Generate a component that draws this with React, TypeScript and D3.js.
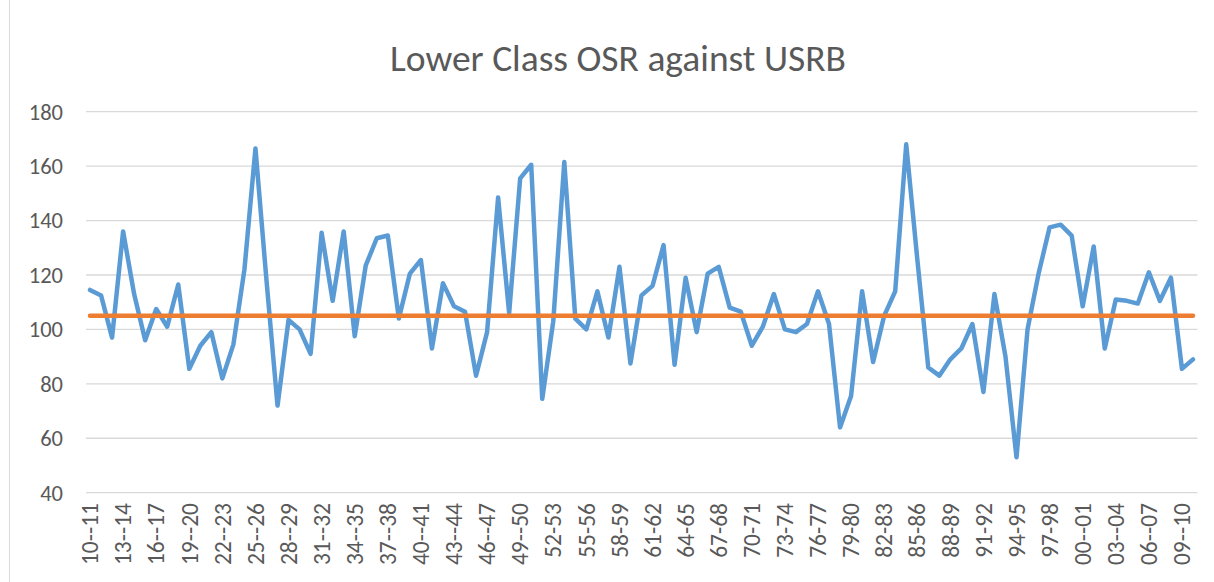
import React from "react";
import * as d3 from "d3";

const categories: string[] = [
  "10--11","11--12","12--13","13--14","14--15","15--16","16--17","17--18","18--19","19--20",
  "20--21","21--22","22--23","23--24","24--25","25--26","26--27","27--28","28--29","29--30",
  "30--31","31--32","32--33","33--34","34--35","35--36","36--37","37--38","38--39","39--40",
  "40--41","41--42","42--43","43--44","44--45","45--46","46--47","47--48","48--49","49--50",
  "50-51","51-52","52-53","53-54","54-55","55-56","56-57","57-58","58-59","59-60",
  "60-61","61-62","62-63","63-64","64-65","65-66","66-67","67-68","68-69","69-70",
  "70-71","71-72","72-73","73-74","74-75","75-76","76-77","77-78","78-79","79-80",
  "80-81","81-82","82-83","83-84","84-85","85-86","86-87","87-88","88-89","89-90",
  "90-91","91-92","92-93","93-94","94-95","95-96","96-97","97-98","98-99","99-00",
  "00--01","01--02","02--03","03--04","04--05","05--06","06--07","07--08","08--09","09--10",
  "10--11"
];

const lowerClassOSR: number[] = [
  114.5,112.5,97,136,113,96,107.5,101,116.5,85.5,
  94,99,82,94.5,122,166.5,118,72,103.5,100,
  91,135.5,110.5,136,97.5,123.5,133.5,134.5,104,120.5,
  125.5,93,117,108.5,106.5,83,99,148.5,106,155.5,
  160.5,74.5,103,161.5,104,100,114,97,123,87.5,
  112.5,116,131,87,119,99,120.5,123,108,106.5,
  94,101,113,100,99,102,114,102,64,75.5,
  114,88,105,114,168,126,86,83,89,93,
  102,77,113,90,53,100,120.5,137.5,138.5,134.5,
  108.5,130.5,93,111,110.5,109.5,121,110.5,119,85.5,
  89
];

const usrbValue: number[] = [105];

const yTicks: number[] = [40, 60, 80, 100, 120, 140, 160, 180];
const labelStep = 3;
const titleText = "Lower Class OSR against USRB";

const W = 1214;
const H = 582;
const FONT = "Carlito, Lato, 'Open Sans', sans-serif";

export default function App() {
  const idx = d3.range(categories.length);
  const x = d3.scaleBand<number>().domain(idx).range([84.5, 1198.5]).padding(0);
  const y = d3.scaleLinear().domain([40, 180]).range([492.7, 111.7]);
  const cx = (i: number) => (x(i) as number) + x.bandwidth() / 2;

  const line = d3
    .line<number>()
    .x((_, i) => cx(i))
    .y((d) => y(d));

  const usrbData = categories.map(() => usrbValue[0]);
  const tickIdx = idx.filter((i) => i % labelStep === 0);

  return (
    <svg
      width={W}
      height={H}
      style={{ position: "absolute", left: 0, top: 0, background: "#fff" }}
      fontFamily={FONT}
    >
      <rect x={0} y={0} width={W} height={H} fill="#fff" />
      <line x1={9.5} x2={9.5} y1={0} y2={H} stroke="#d9d9d9" strokeWidth={1} />
      <text x={618} y={71} textAnchor="middle" fontSize={37.5} fill="#595959" fontWeight={300}>
        {titleText}
      </text>
      {yTicks.map((t) => (
        <g key={t}>
          <line
            x1={86}
            x2={1197.5}
            y1={y(t)}
            y2={y(t)}
            stroke="#d9d9d9"
            strokeWidth={1.3}
          />
          <text
            x={63}
            y={y(t)}
            dy="0.35em"
            textAnchor="end"
            fontSize={22.5}
            fill="#595959"
          >
            {t}
          </text>
        </g>
      ))}
      {tickIdx.map((i) => (
        <text
          key={i}
          transform={`translate(${cx(i)},503) rotate(-90)`}
          textAnchor="end"
          dy="0.35em"
          fontSize={23.5}
          fill="#595959"
        >
          {categories[i]}
        </text>
      ))}
      <path
        d={line(lowerClassOSR) || ""}
        fill="none"
        stroke="#5b9bd5"
        strokeWidth={4.5}
        strokeLinejoin="round"
        strokeLinecap="round"
      />
      <path
        d={line(usrbData) || ""}
        fill="none"
        stroke="#ed7d31"
        strokeWidth={4.5}
        strokeLinejoin="round"
        strokeLinecap="round"
      />
    </svg>
  );
}
